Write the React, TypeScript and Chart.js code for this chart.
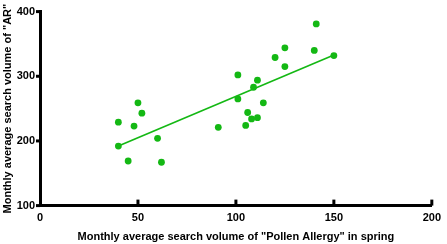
import React, { useEffect, useRef } from "react";
import { Chart, registerables } from "chart.js";

Chart.register(...registerables);

const pollenX = [40, 40, 45, 48, 50, 52, 60, 62, 91, 101, 101, 105, 106, 108, 109, 111, 111, 114, 120, 125, 125, 140, 141, 150];
const arY = [229, 192, 169, 223, 259, 243, 204, 167, 221, 302, 265, 224, 244, 234, 283, 294, 236, 259, 329, 344, 315, 340, 381, 332];
const fitX = [40, 150];
const fitY = [192, 333];
const xTicks = [0, 50, 100, 150, 200];
const yTicks = [100, 200, 300, 400];

const GREEN = "#14b814";
const FONT = "'Liberation Sans', Arial, sans-serif";

const innerTicks = {
  id: "innerTicks",
  afterDraw(chart: any) {
    const { ctx, scales, chartArea } = chart;
    ctx.save();
    ctx.strokeStyle = "#000";
    ctx.lineWidth = 3;
    xTicks.forEach((v) => {
      if (v === 0) return;
      const px = scales.x.getPixelForValue(v);
      ctx.beginPath();
      ctx.moveTo(px, chartArea.bottom);
      ctx.lineTo(px, chartArea.bottom - 6);
      ctx.stroke();
    });
    yTicks.forEach((v) => {
      const py = scales.y.getPixelForValue(v);
      ctx.beginPath();
      ctx.moveTo(chartArea.left, py);
      ctx.lineTo(chartArea.left - 4, py);
      ctx.stroke();
    });
    ctx.restore();
  },
};

export default function App() {
  const ref = useRef<HTMLCanvasElement>(null);
  useEffect(() => {
    document.body.style.margin = "0";
    const chart = new Chart(ref.current!, {
      type: "scatter",
      data: {
        datasets: [
          {
            data: pollenX.map((x, i) => ({ x, y: arY[i] })),
            backgroundColor: GREEN,
            borderColor: GREEN,
            pointRadius: 3.4,
            pointBorderWidth: 0,
          },
          {
            type: "line",
            data: fitX.map((x, i) => ({ x, y: fitY[i] })),
            borderColor: GREEN,
            borderWidth: 1.6,
            pointRadius: 0,
            fill: false,
          } as any,
        ],
      },
      options: {
        animation: false,
        responsive: false,
        events: [],
        layout: { padding: { top: 0, right: 10, left: 0, bottom: 0 } },
        plugins: { legend: { display: false }, tooltip: { enabled: false } },
        scales: {
          x: {
            type: "linear",
            min: 0,
            max: 200,
            afterBuildTicks: (s: any) => {
              s.ticks = xTicks.map((v) => ({ value: v }));
            },
            grid: { display: false, drawTicks: false },
            border: { display: true, color: "#000", width: 3 },
            ticks: { color: "#000", font: { family: FONT, size: 11, weight: "bold" }, padding: 6 },
            title: {
              display: true,
              text: 'Monthly average search volume of "Pollen Allergy" in spring',
              color: "#000",
              font: { family: FONT, size: 11, weight: "bold" },
              padding: { top: 0, bottom: 0 },
            },
          },
          y: {
            type: "linear",
            min: 100,
            max: 400,
            afterBuildTicks: (s: any) => {
              s.ticks = yTicks.map((v) => ({ value: v }));
            },
            afterFit: (s: any) => {
              s.width = 40;
            },
            grid: { display: false, drawTicks: false },
            border: { display: true, color: "#000", width: 3 },
            ticks: { color: "#000", font: { family: FONT, size: 11, weight: "bold" }, padding: 5 },
            title: {
              display: true,
              text: 'Monthly average search volume of "AR"',
              color: "#000",
              font: { family: FONT, size: 11, weight: "bold" },
              padding: { top: 1, bottom: 0 },
            },
          },
        },
      },
      plugins: [innerTicks],
    });
    return () => chart.destroy();
  }, []);
  return <canvas ref={ref} width={447} height={244} style={{ display: "block" }} />;
}
